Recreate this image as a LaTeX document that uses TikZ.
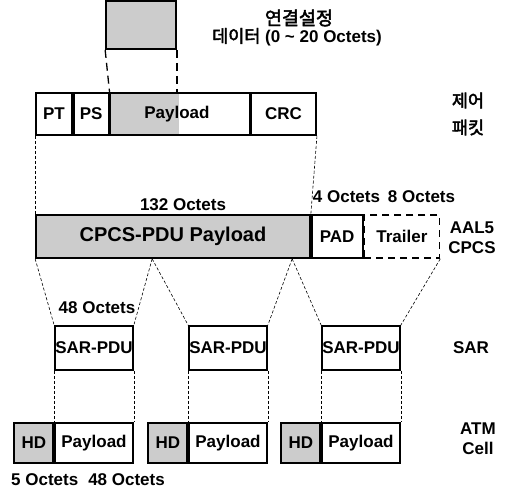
\documentclass[tikz,border=0pt]{standalone}
\usepackage{fontspec}
\setmainfont{Liberation Sans}
\newfontfamily\krfont[AutoFakeBold=2.5]{Noto Sans CJK KR}
\usetikzlibrary{positioning}
\newcommand{\lblfont}{\bfseries\fontsize{17}{20}\selectfont}

\begin{document}
\begin{tikzpicture}[x=1pt, y=-1pt,
    field/.style={draw, line width=1.7pt, inner sep=0pt, font=\lblfont},
    shaded/.style={field, fill=black!20},
    guide/.style={line width=0.6pt, dash pattern=on 3pt off 2pt},
    bigguide/.style={line width=1.3pt, dash pattern=on 8pt off 5pt},
    lbl/.style={inner sep=0pt, font=\lblfont},
    krlbl/.style={inner sep=0pt, align=center, font=\krfont\bfseries\fontsize{17.5}{27}\selectfont}]
  \useasboundingbox (0,0) rectangle (507,500);

  % connection set-up data
  \node[shaded, minimum width=70pt, minimum height=48pt] (data) at (141,25) {};
  \node[krlbl, font=\krfont\bfseries\fontsize{18.5}{20}\selectfont] (datatitle) at (299,18) {연결설정};
  \node[lbl] (datasize) at (297,37) {{\krfont\bfseries\fontsize{17.5}{20}\selectfont 데이터} (0 \textasciitilde{} 20 Octets)};

  % control packet
  \node[field, minimum width=36pt, minimum height=42pt] (pt) at (54,114) {PT};
  \node[field, minimum width=35pt, minimum height=42pt, right=0pt of pt] (ps) {PS};
  \node[field, minimum width=139pt, minimum height=42pt, right=0pt of ps,
        path picture={\fill[black!20] (path picture bounding box.north west)
          rectangle ([xshift=69pt]path picture bounding box.south west);}] (cpay) {\hspace*{-6pt}Payload};
  \node[field, minimum width=65pt, minimum height=42pt, right=0pt of cpay] (crc) {CRC};
  \node[krlbl] (ctrl) at (468,114) {제어\\패킷};

  \draw[bigguide] (data.south west) -- (cpay.north west);
  \draw[bigguide] (data.south east) -- (data.south east |- cpay.north);

  % AAL5 CPCS
  \node[shaded, minimum width=274pt, minimum height=43pt,
        font=\bfseries\fontsize{20}{22}\selectfont] (cpcs) at (173,236.5) {CPCS-PDU Payload};
  \node[field, minimum width=51pt, minimum height=43pt, right=0pt of cpcs] (pad) {PAD};
  \node[field, dash pattern=on 7pt off 5pt, minimum width=75pt, minimum height=43pt,
        right=0pt of pad] (trl) {Trailer};
  \node[lbl] (cpcssize) at (183,205) {132 Octets};
  \node[lbl] (trlsize) at (384,197) {4 Octets\hspace{8pt}8 Octets};
  \node[lbl, align=center] (aal) at (472,238) {AAL5\\CPCS};

  \draw[guide] (pt.south west) -- (cpcs.north west);
  \draw[guide] (crc.south east) -- (cpcs.north east);

  % SAR
  \foreach \n/\x in {1/94, 2/228, 3/361}
    \node[field, minimum width=78pt, minimum height=44pt,
          font=\bfseries\fontsize{17}{20}\selectfont] (sar\n) at (\x,348) {SAR-PDU};
  \node[lbl] (sarsize) at (97,308) {48 Octets};
  \node[lbl] (sar) at (471,348) {SAR};

  \coordinate (cut1) at ([xshift=117pt]cpcs.south west);
  \coordinate (cut2) at ([xshift=257pt]cpcs.south west);
  \draw[guide] (cpcs.south west) -- (sar1.north west);
  \draw[guide] (cut1) -- (sar1.north east);
  \draw[guide] (cut1) -- (sar2.north west);
  \draw[guide] (cut2) -- (sar2.north east);
  \draw[guide] (cut2) -- (sar3.north west);
  \draw[guide] (trl.south east) -- (sar3.north east);

  % ATM cells
  \foreach \n/\x in {1/94, 2/228, 3/361} {
    \node[field, minimum width=78pt, minimum height=40pt] (cp\n) at (\x,443) {Payload};
    \node[shaded, minimum width=39pt, minimum height=40pt, left=0pt of cp\n] (hd\n) {HD};
    \draw[guide] (sar\n.south west) -- (cp\n.north west);
    \draw[guide] (sar\n.south east) -- (cp\n.north east);
  }
  \node[lbl, align=center] (atm) at (478,439) {ATM\\Cell};
  \node[lbl] (cellsize) at (88,480) {5 Octets\hspace{10pt}48 Octets};
\end{tikzpicture}
\end{document}
